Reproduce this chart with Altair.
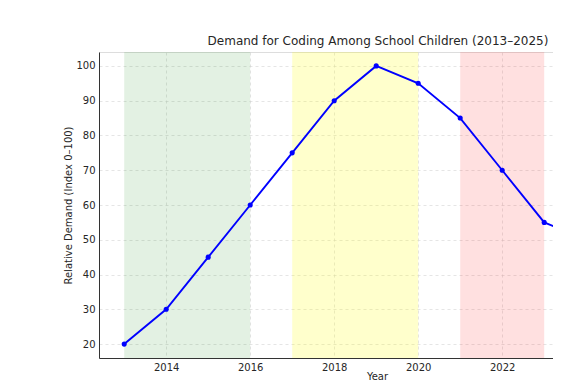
import altair as alt
import pandas as pd

years = [2013, 2014, 2015, 2016, 2017, 2018, 2019, 2020, 2021, 2022, 2023, 2024, 2025]
demand = [20, 30, 45, 60, 75, 90, 100, 95, 85, 70, 55, 50, 45]

band_start = [2013, 2017, 2021]
band_end = [2016, 2020, 2023]
band_color = ["green", "yellow", "red"]
band_opacity = [0.11, 0.2, 0.12]

x_ticks = [2014, 2016, 2018, 2020, 2022, 2024]
y_ticks = [20, 30, 40, 50, 60, 70, 80, 90, 100]

W, H = 454, 306
x_min = 2012.4
x_max = x_min + W / 42.0
y_dom = [16, 104]

df = pd.DataFrame({"year": years, "demand": demand})
bands = pd.DataFrame({"start": band_start, "end": band_end,
                      "color": band_color, "op": band_opacity})

FONT = "DejaVu Sans"
TXT = "#262626"

xscale = alt.Scale(domain=[x_min, x_max], nice=False, zero=False)
yscale = alt.Scale(domain=y_dom, nice=False, zero=False)

grid_kw = dict(grid=True, gridColor="#d4d4d4", gridDash=[3, 3], gridWidth=0.6,
               domainColor="#333333", domainWidth=1, ticks=False,
               tickCount=30, labelFont=FONT, labelFontSize=10,
               labelColor=TXT, titleFont=FONT, titleFontSize=10, titleColor=TXT,
               titleFontWeight="normal", labelPadding=4)

x_axis = alt.Axis(title="Year", values=x_ticks, format="d",
                  titleX=278, titleY=21, titleBaseline="alphabetic", **grid_kw)
y_axis = alt.Axis(title="Relative Demand (Index 0–100)", values=y_ticks,
                  titlePadding=2, **grid_kw)

rects = alt.Chart(bands).mark_rect(clip=True).encode(
    x=alt.X("start:Q", scale=xscale, axis=x_axis),
    x2="end:Q",
    y=alt.value(0),
    y2=alt.value(H),
    color=alt.Color("color:N", scale=None),
    opacity=alt.Opacity("op:Q", scale=None),
)

line = alt.Chart(df).mark_line(color="blue", strokeWidth=1.9, clip=True).encode(
    x=alt.X("year:Q", scale=xscale, axis=x_axis),
    y=alt.Y("demand:Q", scale=yscale, axis=y_axis),
)

pts = alt.Chart(df).mark_circle(color="blue", size=26, opacity=1, clip=True).encode(
    x=alt.X("year:Q", scale=xscale, axis=x_axis),
    y=alt.Y("demand:Q", scale=yscale, axis=y_axis),
)

chart = alt.layer(rects, line, pts).properties(
    width=W, height=H,
    title=alt.TitleParams("Demand for Coding Among School Children (2013–2025)",
                          font=FONT, fontSize=12, fontWeight="normal", color=TXT,
                          anchor="middle", dx=52, offset=4),
    autosize=alt.AutoSizeParams(type="none"),
    padding={"left": 91, "top": 44, "right": 0, "bottom": 22},
).configure_view(stroke=None).configure(background="white")

chart.save("out.html", embed_options={"renderer": "svg", "actions": False})
